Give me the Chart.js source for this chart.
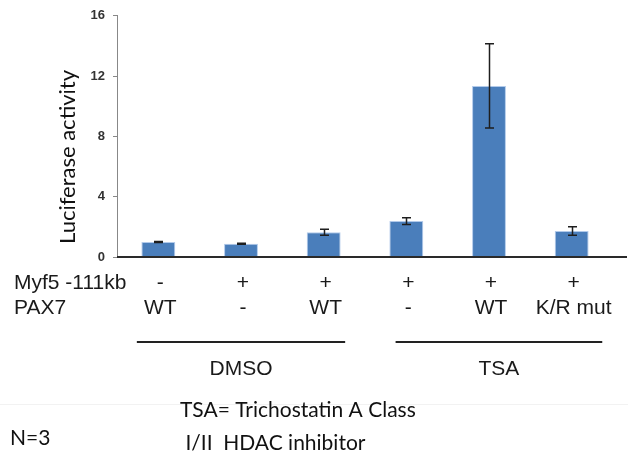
<!DOCTYPE html>
<html>
<head>
<meta charset="utf-8">
<script src="https://cdn.jsdelivr.net/npm/chart.js@4"></script>
<style>
  html, body { margin: 0; padding: 0; background: #fff; }
  #wrap { width: 628px; height: 460px; position: relative; }
</style>
</head>
<body>
<div id="wrap"><canvas id="c" width="628" height="460"></canvas></div>
<script>
const categories = ['1', '2', '3', '4', '5', '6'];
const means = [1.0, 0.88, 1.64, 2.38, 11.35, 1.72];
const errors = [0.03, 0.03, 0.2, 0.22, 2.8, 0.28];
const myf5Row = ['-', '+', '+', '+', '+', '+'];
const pax7Row = ['WT', '-', 'WT', '-', 'WT', 'K/R mut'];
const rowNames = ['Myf5 -111kb', 'PAX7'];
const groups = [
  { name: 'DMSO', from: 0, to: 2 },
  { name: 'TSA', from: 3, to: 5 }
];
const yTicks = [0, 4, 8, 12, 16];
const yTitle = 'Luciferase activity';
const notes = ['TSA= Trichostatin A Class', ' I/II  HDAC inhibitor'];
const nNote = 'N=3';

// group underline extents, in category-step units (style, not data)
const groupPad = [[-0.26, 0.26], [-0.13, 0.37]];

const extras = {
  id: 'extras',
  afterDatasetsDraw(chart) {
    const ctx = chart.ctx;
    const x = chart.scales.x, y = chart.scales.y;
    const meta = chart.getDatasetMeta(0);
    ctx.save();
    // error bars
    ctx.strokeStyle = '#1e1e1e';
    ctx.lineWidth = 1.5;
    meta.data.forEach((bar, i) => {
      const cx = Math.round(bar.x) + 0.5;
      const top = y.getPixelForValue(means[i] + errors[i]);
      const bot = y.getPixelForValue(means[i] - errors[i]);
      ctx.beginPath();
      ctx.moveTo(cx, top); ctx.lineTo(cx, bot);
      ctx.moveTo(cx - 4.5, top); ctx.lineTo(cx + 4.5, top);
      ctx.moveTo(cx - 4.5, bot); ctx.lineTo(cx + 4.5, bot);
      ctx.stroke();
    });
    // x axis line
    const y0 = y.getPixelForValue(0);
    ctx.strokeStyle = '#2a2a2a';
    ctx.lineWidth = 2;
    ctx.beginPath();
    ctx.moveTo(chart.chartArea.left, y0);
    ctx.lineTo(chart.width - 1, y0);
    ctx.stroke();

    // y title
    ctx.fillStyle = '#111';
    ctx.font = '22px Lato, "Open Sans", sans-serif';
    ctx.textAlign = 'center';
    ctx.textBaseline = 'middle';
    ctx.save();
    ctx.translate(68, 157);
    ctx.rotate(-Math.PI / 2);
    ctx.fillText(yTitle, 0, 0);
    ctx.restore();

    // row labels
    ctx.font = '21px "Liberation Sans", Arial, sans-serif';
    ctx.fillStyle = '#1a1a1a';
    ctx.textAlign = 'left';
    ctx.fillText(rowNames[0], 14, 283);
    ctx.fillText(rowNames[1], 14, 308);
    ctx.textAlign = 'center';
    categories.forEach((c, i) => {
      const px = x.getPixelForValue(i);
      ctx.fillText(myf5Row[i], px + 2, 283);
      ctx.fillText(pax7Row[i], px + 2, 308);
    });
    // group lines
    ctx.strokeStyle = '#222';
    ctx.lineWidth = 2;
    const step = x.getPixelForValue(1) - x.getPixelForValue(0);
    groups.forEach((g, k) => {
      const a = x.getPixelForValue(g.from) + step * groupPad[k][0];
      const b = x.getPixelForValue(g.to) + step * groupPad[k][1];
      ctx.beginPath();
      ctx.moveTo(a, 342); ctx.lineTo(b, 342);
      ctx.stroke();
      ctx.fillText(g.name, (a + b) / 2, 369);
    });
    // faint separator
    ctx.strokeStyle = '#f2f2f2';
    ctx.lineWidth = 1;
    ctx.beginPath();
    ctx.moveTo(0, 404.5); ctx.lineTo(628, 404.5);
    ctx.stroke();
    // notes
    ctx.fillStyle = '#111';
    ctx.font = '21px Lato, "Open Sans", sans-serif';
    ctx.textAlign = 'left';
    ctx.fillText(nNote, 10, 438);
    ctx.fillText(notes[0], 180, 410);
    ctx.fillText(notes[1], 180, 443);
    ctx.restore();
  }
};

new Chart(document.getElementById('c'), {
  type: 'bar',
  data: {
    labels: categories,
    datasets: [{
      data: means,
      backgroundColor: '#4a7ebb',
      borderColor: 'rgba(170,196,232,0.9)',
      borderWidth: 1,
      categoryPercentage: 1,
      barPercentage: 0.41
    }]
  },
  options: {
    responsive: false,
    animation: false,
    events: [],
    layout: { padding: { left: 0, right: 15, top: 15, bottom: 0 } },
    plugins: { legend: { display: false }, tooltip: { enabled: false } },
    scales: {
      x: {
        grid: { display: false, drawTicks: false },
        border: { display: false },
        ticks: { display: false },
        afterFit: s => { s.height = 203; }
      },
      y: {
        min: 0, max: 16,
        afterBuildTicks: s => { s.ticks = yTicks.map(v => ({ value: v })); },
        grid: { drawOnChartArea: false, drawTicks: true, tickLength: 4, color: '#888' },
        border: { display: true, color: '#888', width: 1 },
        ticks: {
          padding: 8,
          color: '#333',
          font: { family: '"Liberation Sans", Arial, sans-serif', size: 13, weight: 'bold' }
        },
        afterFit: s => { s.width = 117; }
      }
    }
  },
  plugins: [extras]
});
</script>
</body>
</html>
